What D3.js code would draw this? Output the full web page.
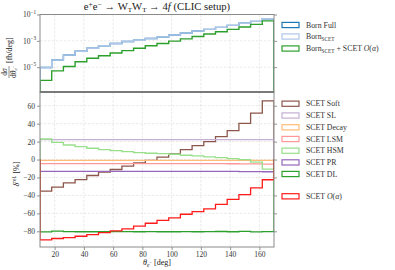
<!DOCTYPE html>
<html>
<head>
<meta charset="utf-8">
<script src="https://cdn.jsdelivr.net/npm/d3@7"></script>
<style>
body { margin: 0; background: #fff; }
svg { display: block; font-family: "Liberation Serif", serif; }
</style>
</head>
<body>
<script>
// bin edges of theta_e- [deg]
const binEdges = [10, 18, 26, 34, 42, 50, 58, 66, 74, 82, 90, 98, 106, 114, 122, 130, 138, 146, 154, 162, 170]
const xTicks = [20, 40, 60, 80, 100, 120, 140, 160]
const topTicks = [1e-1, 1e-3, 1e-5]
const lowTicks = [-80, -60, -40, -20, 0, 20, 40, 60]

// upper panel, dsigma/dtheta [fb/deg]
const bornFull = [9.5e-6, 3.6e-5, 8.3e-5, 1.62e-4, 2.75e-4, 4.2e-4, 6.2e-4, 8.9e-4, 1.1e-3, 1.5e-3,
  1.9e-3, 2.75e-3, 3.9e-3, 5.6e-3, 7.4e-3, 1.05e-2, 1.5e-2, 2.14e-2, 3.0e-2, 4.7e-2]
const bornScet = [9.5e-6, 3.6e-5, 8.3e-5, 1.62e-4, 2.75e-4, 4.2e-4, 6.2e-4, 8.9e-4, 1.1e-3, 1.5e-3,
  1.9e-3, 2.75e-3, 3.9e-3, 5.6e-3, 7.4e-3, 1.05e-2, 1.5e-2, 2.14e-2, 3.0e-2, 4.7e-2]
const bornPlusScet = [1.0e-6, 5.2e-6, 1.12e-5, 2.57e-5, 4.7e-5, 7.4e-5, 1.2e-4, 1.82e-4, 2.75e-4, 4.2e-4,
  6.3e-4, 9.5e-4, 1.41e-3, 2.14e-3, 3.3e-3, 4.9e-3, 7.4e-3, 1.12e-2, 1.78e-2, 3.3e-2]

// lower panel, relative corrections [%]
const scetSoft = [-35.2, -30.8, -26, -22.3, -17.8, -14.1, -11.1, -7.4, -3.7, -1,
  2.6, 6.3, 11.1, 15.5, 20, 25.5, 32.2, 40.3, 51.8, 65.5]
const scetSL = [22.2, 22.2, 22.2, 22.2, 22.2, 22.2, 22.2, 22.2, 22.2, 22.2,
  22.2, 22.2, 22.2, 22.2, 22.2, 22.2, 22.2, 22.2, 22.2, 22.2]
const scetDecay = [-1, -1, -1, -1, -1, -1, -1, -1, -1, -1,
  -1, -1, -1, -1, -1, -1, -1, -1, -1, -1]
const scetLSM = [-4.5, -4.5, -4.5, -4.5, -4.5, -4.5, -4.5, -4.5, -4.5, -4.5,
  -4.5, -4.5, -4.5, -4.5, -4.6, -4.6, -4.7, -4.8, -4.9, -5]
const scetHSM = [22.9, 19.2, 16.2, 14.4, 12.6, 11.1, 10, 8.9, 7.8, 7,
  6.6, 5.9, 4.8, 4, 2.9, 2.2, 1.1, -0.2, -2.8, -10.6]
const scetPR = [-13.2, -13.2, -13.2, -13.2, -13.2, -13.2, -13.2, -13.2, -13.2, -13.2,
  -13.2, -13.2, -13.2, -13.2, -13.2, -13.3, -13.3, -13.4, -13.5, -13.6]
const scetDL = [-80.6, -79.8, -80.3, -80.5, -80.5, -80.5, -80.4, -80.3, -80.5, -80.4,
  -80.5, -80.5, -80.4, -80.5, -80.3, -80.2, -80.5, -80.1, -80.6, -80.4]
const scetTotal = [-89.5, -88, -87, -85.5, -83.6, -81.5, -79.6, -77.2, -74.2, -71,
  -67.8, -65, -61, -58, -55, -50, -44.3, -39, -31.5, -22.5]

const WIDTH = 395
const HEIGHT = 270
const X0 = 40, X1 = 274
const TOP0 = 14.5, TOP1 = 92
const LOW0 = 92, LOW1 = 247

const svg = d3.select("body").append("svg").attr("width", WIDTH).attr("height", HEIGHT)

const x = d3.scaleLinear().domain([10, 170]).range([X0, X1])
const yTop = d3.scaleLog().domain([1.3e-7, 1e-1]).range([TOP1, TOP0])
const yLow = d3.scaleLinear().domain([-97.5, 75.3]).range([LOW1, LOW0])

const defs = svg.append("defs")
defs.append("clipPath").attr("id", "clipTop").append("rect")
  .attr("x", X0).attr("y", TOP0).attr("width", X1 - X0).attr("height", TOP1 - TOP0)
defs.append("clipPath").attr("id", "clipLow").append("rect")
  .attr("x", X0).attr("y", LOW0).attr("width", X1 - X0).attr("height", LOW1 - LOW0)

// grids
function grid(y, ticks, y0, y1) {
  const g = svg.append("g").attr("stroke", "#dcdcdc").attr("stroke-width", 0.6).attr("stroke-dasharray", "2.5,1.5")
  g.selectAll(".v").data(xTicks).enter().append("line")
    .attr("x1", d => x(d)).attr("x2", d => x(d)).attr("y1", y0).attr("y2", y1)
  g.selectAll(".h").data(ticks).enter().append("line")
    .attr("x1", X0).attr("x2", X1).attr("y1", d => y(d)).attr("y2", d => y(d))
}
grid(yTop, topTicks, TOP0, TOP1)
grid(yLow, lowTicks, LOW0, LOW1)

function stepPoints(vals, base) {
  const pts = [[binEdges[0], base]]
  vals.forEach((v, i) => {
    pts.push([binEdges[i], v])
    pts.push([binEdges[i + 1], v])
  })
  pts.push([binEdges[binEdges.length - 1], base])
  return pts
}

const topSeries = [
  { name: "Born Full", vals: bornFull, color: "#1f77b4" },
  { name: "BornSCET", vals: bornScet, color: "#aec7e8" },
  { name: "BornSCET + SCET O(a)", vals: bornPlusScet, color: "#2ca02c" }
]
const lowSeries = [
  { name: "SCET Soft", vals: scetSoft, color: "#8c564b" },
  { name: "SCET SL", vals: scetSL, color: "#c5b0d5" },
  { name: "SCET Decay", vals: scetDecay, color: "#ffbb78" },
  { name: "SCET LSM", vals: scetLSM, color: "#ff9896" },
  { name: "SCET HSM", vals: scetHSM, color: "#98df8a" },
  { name: "SCET PR", vals: scetPR, color: "#9467bd" },
  { name: "SCET DL", vals: scetDL, color: "#2ca02c" },
  { name: "SCET O(a)", vals: scetTotal, color: "#ff1a1a" }
]

const lineTop = d3.line().x(d => x(d[0])).y(d => yTop(d[1]))
const lineLow = d3.line().x(d => x(d[0])).y(d => yLow(d[1]))

svg.append("g").attr("clip-path", "url(#clipTop)")
  .selectAll("path").data(topSeries).enter().append("path")
  .attr("d", d => lineTop(stepPoints(d.vals, 1e-12)))
  .attr("fill", "none").attr("stroke", d => d.color).attr("stroke-width", 1.4)

svg.append("g").attr("clip-path", "url(#clipLow)")
  .selectAll("path").data(lowSeries).enter().append("path")
  .attr("d", d => lineLow(stepPoints(d.vals, 0)))
  .attr("fill", "none").attr("stroke", d => d.color).attr("stroke-width", 1.3)

// axes
function styleAxis(g) {
  g.select(".domain").remove()
  g.selectAll(".tick line").attr("stroke", "#777").attr("stroke-width", 0.8)
  g.selectAll(".tick text").attr("font-family", "Liberation Serif, serif").attr("font-size", 7.5).attr("fill", "#333")
}
const minus = d => d < 0 ? "\u2212" + Math.abs(d) : "" + d

svg.append("g").attr("transform", `translate(${X0},0)`)
  .call(d3.axisLeft(yLow).tickValues(lowTicks).tickSize(3).tickPadding(2).tickFormat(minus)).call(styleAxis)
svg.append("g").attr("transform", `translate(${X1},0)`)
  .call(d3.axisRight(yLow).tickValues(lowTicks).tickSize(3).tickFormat("")).call(styleAxis)
svg.append("g").attr("transform", `translate(0,${LOW1})`)
  .call(d3.axisBottom(x).tickValues(xTicks).tickSize(3).tickPadding(1.5)).call(styleAxis)
svg.append("g").attr("transform", `translate(${X0},0)`)
  .call(d3.axisLeft(yTop).tickValues(topTicks).tickSize(3).tickFormat("")).call(styleAxis)
svg.append("g").attr("transform", `translate(${X1},0)`)
  .call(d3.axisRight(yTop).tickValues(topTicks).tickSize(3).tickFormat("")).call(styleAxis)

// log tick labels 10^-n
topTicks.forEach(t => {
  const txt = svg.append("text").attr("x", 36).attr("y", yTop(t) + 2.8)
    .attr("text-anchor", "end").attr("font-size", 7.5).attr("fill", "#333")
  txt.append("tspan").text("10")
  txt.append("tspan").attr("dy", -3.5).attr("font-size", 5.2).text("\u2212" + Math.round(-Math.log10(t)))
})

// frames
const frame = svg.append("g").attr("fill", "none").attr("stroke", "#8a8a8a").attr("stroke-width", 1)
frame.append("rect").attr("x", X0).attr("y", TOP0).attr("width", X1 - X0).attr("height", TOP1 - TOP0)
frame.append("rect").attr("x", X0).attr("y", LOW0).attr("width", X1 - X0).attr("height", LOW1 - LOW0)
svg.append("line").attr("x1", X0).attr("x2", X1).attr("y1", LOW0).attr("y2", LOW0)
  .attr("stroke", "#7a7a7a").attr("stroke-width", 2)

// title
const title = svg.append("text").attr("x", 157).attr("y", 10).attr("text-anchor", "middle")
  .attr("font-size", 10.7).attr("fill", "#222")
title.append("tspan").text("e")
title.append("tspan").attr("dy", -3.5).attr("font-size", 7.5).text("+")
title.append("tspan").attr("dy", 3.5).text("e")
title.append("tspan").attr("dy", -3.5).attr("font-size", 7.5).text("\u2212")
title.append("tspan").attr("dy", 3.5).text(" \u2192 W")
title.append("tspan").attr("dy", 2).attr("font-size", 7).text("T")
title.append("tspan").attr("dy", -2).text("W")
title.append("tspan").attr("dy", 2).attr("font-size", 7).text("T")
title.append("tspan").attr("dy", -2).text(" \u2192 4")
title.append("tspan").attr("font-style", "italic").text("f")
title.append("tspan").text(" (CLIC setup)")

// y label upper panel
const yl = svg.append("g").attr("transform", "translate(9,72) rotate(-90)").attr("fill", "#222")
yl.append("text").attr("x", 0).attr("y", -1.8).attr("text-anchor", "middle").attr("font-size", 7.5)
  .text("d").append("tspan").attr("font-style", "italic").text("\u03c3")
yl.append("line").attr("x1", -6).attr("x2", 6).attr("y1", 0).attr("y2", 0).attr("stroke", "#222").attr("stroke-width", 0.5)
const den = yl.append("text").attr("x", 0).attr("y", 6.5).attr("text-anchor", "middle").attr("font-size", 7.5)
den.append("tspan").text("d")
den.append("tspan").attr("font-style", "italic").text("\u03b8")
den.append("tspan").attr("dy", 1.5).attr("font-size", 5).attr("font-style", "italic").text("e")
den.append("tspan").attr("dy", -2.5).attr("font-size", 4).text("\u2212")
yl.append("text").attr("x", 9).attr("y", 3).attr("font-size", 8).text("[fb/deg]")

// y label lower panel
const yl2 = svg.append("text").attr("transform", "translate(19,174) rotate(-90)")
  .attr("text-anchor", "middle").attr("font-size", 8).attr("fill", "#222")
yl2.append("tspan").attr("font-style", "italic").text("\u03b4")
yl2.append("tspan").attr("dy", -3.5).attr("font-size", 5.5).text("rel.")
yl2.append("tspan").attr("dy", 3.5).text(" [%]")

// x label
const xl = svg.append("text").attr("x", 157).attr("y", 265).attr("text-anchor", "middle")
  .attr("font-size", 8).attr("fill", "#222")
xl.append("tspan").attr("font-style", "italic").text("\u03b8")
xl.append("tspan").attr("dy", 1.5).attr("font-size", 5.5).attr("font-style", "italic").text("e")
xl.append("tspan").attr("dy", -3).attr("font-size", 4.5).text("\u2212")
xl.append("tspan").attr("dy", 1.5).text(" [deg]")

// legends
function legendLabel(sel, name) {
  if (name.startsWith("BornSCET")) {
    sel.append("tspan").text("Born")
    sel.append("tspan").attr("dy", 1.8).attr("font-size", 5.3).text("SCET")
    sel.append("tspan").attr("dy", -1.8).text(name.includes("+") ? " + SCET " : "")
  } else if (name.endsWith("O(a)")) {
    sel.append("tspan").text("SCET ")
  } else {
    sel.append("tspan").text(name)
    return
  }
  if (name.endsWith("O(a)")) {
    sel.append("tspan").attr("font-style", "italic").text("O")
    sel.append("tspan").text("(")
    sel.append("tspan").attr("font-style", "italic").text("\u03b1")
    sel.append("tspan").text(")")
  }
}
function legend(items, ys) {
  items.forEach((d, i) => {
    svg.append("rect").attr("x", 282).attr("y", ys[i] - 2.6).attr("width", 17).attr("height", 5.2)
      .attr("fill", "#fff").attr("stroke", d.color).attr("stroke-width", 1.2)
    const t = svg.append("text").attr("x", 306).attr("y", ys[i] + 2.6).attr("font-size", 7.8).attr("fill", "#333")
    legendLabel(t, d.name)
  })
}
legend(topSeries, [25, 36.5, 48.5])
legend(lowSeries, [103.7, 115.5, 127.3, 139, 150.7, 162.4, 174, 196.3])
</script>
</body>
</html>
